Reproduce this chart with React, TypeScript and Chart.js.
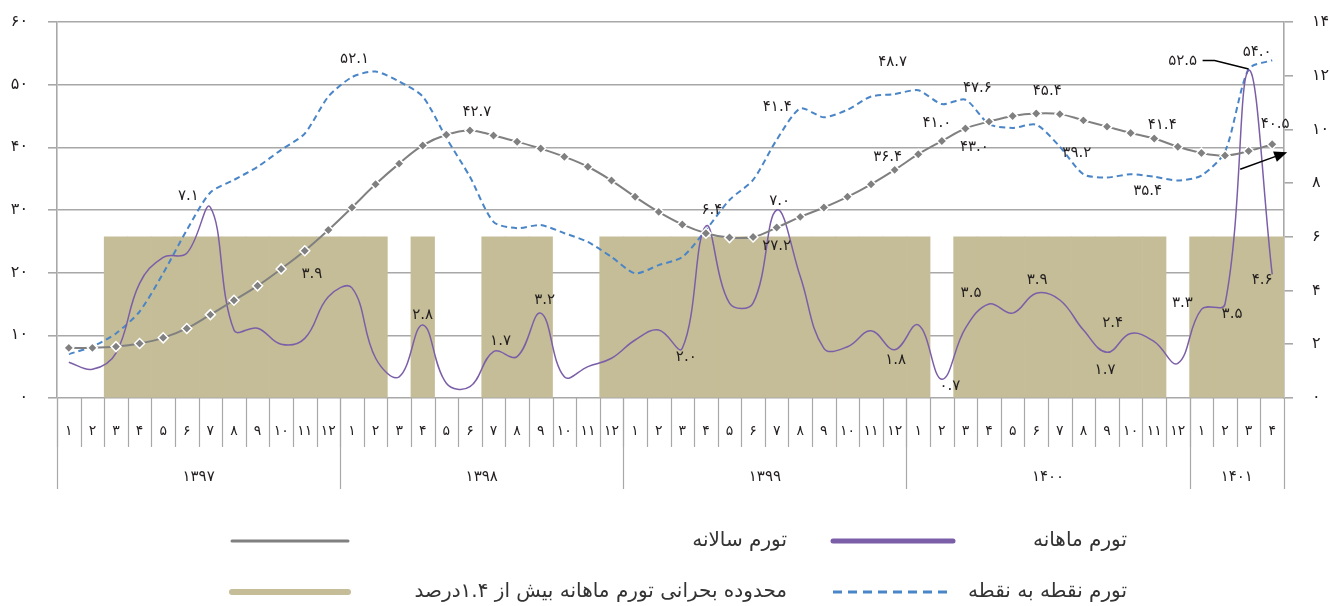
import { useEffect, useRef } from 'react';
import { Chart, registerables } from 'chart.js';

Chart.register(...registerables);

const FONT = '"DejaVu Sans", sans-serif';

// Category axis: Persian month numbers grouped by year
const monthLabels = [
  '۱', '۲', '۳', '۴', '۵', '۶', '۷', '۸', '۹', '۱۰', '۱۱', '۱۲',
  '۱', '۲', '۳', '۴', '۵', '۶', '۷', '۸', '۹', '۱۰', '۱۱', '۱۲',
  '۱', '۲', '۳', '۴', '۵', '۶', '۷', '۸', '۹', '۱۰', '۱۱', '۱۲',
  '۱', '۲', '۳', '۴', '۵', '۶', '۷', '۸', '۹', '۱۰', '۱۱', '۱۲',
  '۱', '۲', '۳', '۴',
];
const yearLabels = ['۱۳۹۷', '۱۳۹۸', '۱۳۹۹', '۱۴۰۰', '۱۴۰۱'];
const yearMonthCounts = [12, 12, 12, 12, 4];

const leftTickLabels = ['۰', '۱۰', '۲۰', '۳۰', '۴۰', '۵۰', '۶۰'];
const rightTickLabels = ['۰', '۲', '۴', '۶', '۸', '۱۰', '۱۲', '۱۴'];

// Monthly inflation (right axis)
const monthly = [
  1.33, 1.07, 1.67, 4.27, 5.24, 5.39, 7.1, 2.53, 2.6, 2.0, 2.22, 3.77,
  4.1, 1.49, 0.79, 2.72, 0.55, 0.42, 1.73, 1.54, 3.16, 0.79, 1.17, 1.48,
  2.16, 2.53, 1.85, 6.4, 3.53, 3.53, 7.0, 4.52, 1.85, 1.91, 2.5, 1.8,
  2.72, 0.7, 2.6, 3.5, 3.16, 3.9, 3.65, 2.53, 1.7, 2.4, 2.1, 1.29,
  3.3, 3.5, 12.2, 4.6,
];

// Annual inflation (left axis)
const annual = [
  8.0, 8.0, 8.2, 8.7, 9.6, 11.1, 13.3, 15.6, 17.9, 20.6, 23.5, 26.8,
  30.4, 34.1, 37.4, 40.3, 42.0, 42.7, 41.9, 40.9, 39.8, 38.5, 36.9, 34.7,
  32.1, 29.7, 27.7, 26.3, 25.6, 25.7, 27.2, 28.9, 30.4, 32.1, 34.1, 36.4,
  38.9, 41.0, 43.0, 44.1, 45.0, 45.4, 45.3, 44.3, 43.3, 42.3, 41.4, 40.1,
  39.1, 38.7, 39.4, 40.5,
];

// Point-to-point inflation (left axis)
const pointToPoint = [
  7.0, 8.2, 10.3, 13.8, 19.9, 26.8, 32.8, 34.8, 36.9, 39.6, 42.2, 48.1,
  51.2, 52.1, 50.5, 48.1, 41.5, 35.3, 28.1, 27.1, 27.6, 26.3, 24.9, 22.5,
  19.9, 21.2, 22.5, 26.8, 31.6, 34.8, 41.2, 46.2, 44.8, 46.0, 48.1, 48.5,
  49.1, 46.9, 47.6, 43.7, 43.1, 43.6, 40.1, 35.7, 35.2, 35.7, 35.3, 34.7,
  35.5, 39.3, 52.5, 53.9,
];

// Crisis band (monthly inflation above 1.4%), height on right axis
const crisis = [
  null, null, 6, 6, 6, 6, 6, 6, 6, 6, 6, 6,
  6, 6, null, 6, null, null, 6, 6, 6, null, null, 6,
  6, 6, 6, 6, 6, 6, 6, 6, 6, 6, 6, 6,
  6, null, 6, 6, 6, 6, 6, 6, 6, 6, 6, null,
  6, 6, 6, 6,
];

const COLORS = {
  monthly: '#7b5ea8',
  annual: '#808080',
  p2p: '#4a85c7',
  crisis: '#c5bd97',
  grid: '#a8a8a8',
  text: '#231f20',
};

// Value labels anchored to data points (series, index, text, offset)
type Ann = { s: 'monthly' | 'annual' | 'p2p'; i: number; t: string; dx: number; dy: number };
const annotations: Ann[] = [
  { s: 'p2p', i: 13, t: '۵۲.۱', dx: -21, dy: -12 },
  { s: 'p2p', i: 31, t: '۴۱.۴', dx: -23, dy: -1 },
  { s: 'p2p', i: 35, t: '۴۸.۷', dx: -2, dy: -32 },
  { s: 'p2p', i: 38, t: '۴۷.۶', dx: 12, dy: -12 },
  { s: 'p2p', i: 42, t: '۳۹.۲', dx: 17, dy: 6 },
  { s: 'p2p', i: 45, t: '۳۵.۴', dx: 17, dy: 17 },
  { s: 'p2p', i: 50, t: '۵۲.۵', dx: -66, dy: -8 },
  { s: 'p2p', i: 51, t: '۵۴.۰', dx: -15, dy: -8 },
  { s: 'annual', i: 17, t: '۴۲.۷', dx: 7, dy: -18 },
  { s: 'annual', i: 30, t: '۲۷.۲', dx: 0, dy: 19 },
  { s: 'annual', i: 35, t: '۳۶.۴', dx: -7, dy: -13 },
  { s: 'annual', i: 37, t: '۴۱.۰', dx: -5, dy: -18 },
  { s: 'annual', i: 38, t: '۴۳.۰', dx: 9, dy: 19 },
  { s: 'annual', i: 41, t: '۴۵.۴', dx: 11, dy: -22 },
  { s: 'annual', i: 46, t: '۴۱.۴', dx: 8, dy: -13 },
  { s: 'annual', i: 51, t: '۴۰.۵', dx: 3, dy: -20 },
  { s: 'monthly', i: 6, t: '۷.۱', dx: -22, dy: -11 },
  { s: 'monthly', i: 12, t: '۳.۹', dx: -40, dy: -14 },
  { s: 'monthly', i: 15, t: '۲.۸', dx: 0, dy: -10 },
  { s: 'monthly', i: 18, t: '۱.۷', dx: 7, dy: -10 },
  { s: 'monthly', i: 20, t: '۳.۲', dx: 4, dy: -13 },
  { s: 'monthly', i: 26, t: '۲.۰', dx: 4, dy: 9 },
  { s: 'monthly', i: 27, t: '۶.۴', dx: 6, dy: -16 },
  { s: 'monthly', i: 30, t: '۷.۰', dx: 3, dy: -9 },
  { s: 'monthly', i: 35, t: '۱.۸', dx: 1, dy: 10 },
  { s: 'monthly', i: 37, t: '۰.۷', dx: 8, dy: 7 },
  { s: 'monthly', i: 39, t: '۳.۵', dx: -18, dy: -11 },
  { s: 'monthly', i: 41, t: '۳.۹', dx: 1, dy: -13 },
  { s: 'monthly', i: 45, t: '۲.۴', dx: -18, dy: -10 },
  { s: 'monthly', i: 44, t: '۱.۷', dx: -2, dy: 18 },
  { s: 'monthly', i: 48, t: '۳.۳', dx: -19, dy: -6 },
  { s: 'monthly', i: 49, t: '۳.۵', dx: 7, dy: 10 },
  { s: 'monthly', i: 51, t: '۴.۶', dx: -10, dy: 6 },
];

const legendItems = [
  { label: 'تورم ماهانه', color: COLORS.monthly, width: 5, dash: [] as number[], col: 0, row: 0 },
  { label: 'تورم سالانه', color: COLORS.annual, width: 3, dash: [] as number[], col: 1, row: 0 },
  { label: 'تورم نقطه به نقطه', color: COLORS.p2p, width: 3, dash: [9, 6], col: 0, row: 1 },
  { label: 'محدوده بحرانی تورم ماهانه بیش از ۱.۴درصد', color: COLORS.crisis, width: 6, dash: [] as number[], col: 1, row: 1 },
];

const seriesData: Record<string, number[]> = { monthly, annual, p2p: pointToPoint };
const seriesAxis: Record<string, string> = { monthly: 'y1', annual: 'y', p2p: 'y' };

const overlayPlugin = {
  id: 'overlay',
  afterDatasetsDraw(chart: any) {
    const ctx = chart.ctx;
    const xs = chart.scales.x;
    ctx.save();
    ctx.font = `15px ${FONT}`;
    ctx.fillStyle = COLORS.text;
    ctx.textAlign = 'center';
    ctx.textBaseline = 'middle';
    for (const a of annotations) {
      const px = xs.getPixelForValue(a.i);
      const py = chart.scales[seriesAxis[a.s]].getPixelForValue(seriesData[a.s][a.i]);
      ctx.fillText(a.t, px + a.dx, py + a.dy);
    }
    // leader line to the 52.5 point
    {
      const px = xs.getPixelForValue(50);
      const py = chart.scales.y.getPixelForValue(pointToPoint[50]);
      ctx.strokeStyle = '#000';
      ctx.lineWidth = 1.3;
      ctx.beginPath();
      ctx.moveTo(px - 46, py - 8.5);
      ctx.lineTo(px - 34, py - 8.5);
      ctx.lineTo(px, py);
      ctx.stroke();
    }
    // arrow toward the right axis
    {
      const px = xs.getPixelForValue(51);
      const py = chart.scales.y.getPixelForValue(annual[51]);
      const x0 = px - 32, y0 = py + 25, x1 = px + 15, y1 = py + 8;
      const ang = Math.atan2(y1 - y0, x1 - x0);
      ctx.strokeStyle = '#000';
      ctx.fillStyle = '#000';
      ctx.lineWidth = 1.5;
      ctx.beginPath();
      ctx.moveTo(x0, y0);
      ctx.lineTo(x1 - 10 * Math.cos(ang), y1 - 10 * Math.sin(ang));
      ctx.stroke();
      ctx.beginPath();
      ctx.moveTo(x1, y1);
      ctx.lineTo(x1 - 13 * Math.cos(ang) + 5.5 * Math.sin(ang), y1 - 13 * Math.sin(ang) - 5.5 * Math.cos(ang));
      ctx.lineTo(x1 - 13 * Math.cos(ang) - 5.5 * Math.sin(ang), y1 - 13 * Math.sin(ang) + 5.5 * Math.cos(ang));
      ctx.closePath();
      ctx.fill();
    }
    ctx.restore();
  },
  afterDraw(chart: any) {
    const ctx = chart.ctx;
    const xs = chart.scales.x;
    const ca = chart.chartArea;
    const bw = xs.getPixelForValue(1) - xs.getPixelForValue(0);
    ctx.save();
    // month separators and labels
    ctx.strokeStyle = COLORS.grid;
    ctx.lineWidth = 1.2;
    ctx.font = `14px ${FONT}`;
    ctx.fillStyle = COLORS.text;
    ctx.textAlign = 'center';
    ctx.textBaseline = 'middle';
    for (let k = 0; k < monthLabels.length; k++) {
      const cx = xs.getPixelForValue(k);
      const bx = Math.round(cx - bw / 2) + 0.5;
      ctx.beginPath();
      ctx.moveTo(bx, ca.bottom);
      ctx.lineTo(bx, ca.bottom + 49);
      ctx.stroke();
      ctx.fillText(monthLabels[k], cx, ca.bottom + 33);
    }
    // year separators and labels
    ctx.font = `15px ${FONT}`;
    let start = 0;
    for (let y = 0; y <= yearLabels.length; y++) {
      const bx = Math.round(xs.getPixelForValue(start) - bw / 2) + 0.5;
      ctx.beginPath();
      ctx.moveTo(bx, ca.bottom);
      ctx.lineTo(bx, ca.bottom + 91);
      ctx.stroke();
      if (y < yearLabels.length) {
        const cnt = yearMonthCounts[y];
        const mid = (xs.getPixelForValue(start) + xs.getPixelForValue(start + cnt - 1)) / 2;
        ctx.fillText(yearLabels[y], mid, ca.bottom + 79);
        start += cnt;
      }
    }
    // legend
    const rowY = [541, 592];
    const colTextRight = [1127, 787];
    const colLine = [[833, 953], [232, 348]];
    ctx.font = `20px ${FONT}`;
    ctx.direction = 'rtl';
    ctx.textAlign = 'right';
    for (const it of legendItems) {
      const y = rowY[it.row];
      ctx.fillStyle = '#333';
      ctx.fillText(it.label, colTextRight[it.col], y);
      ctx.strokeStyle = it.color;
      ctx.lineWidth = it.width;
      ctx.setLineDash(it.dash);
      ctx.lineCap = it.dash.length ? 'butt' : 'round';
      ctx.beginPath();
      ctx.moveTo(colLine[it.col][0], y);
      ctx.lineTo(colLine[it.col][1], y);
      ctx.stroke();
      ctx.setLineDash([]);
    }
    ctx.restore();
  },
};

export default function App() {
  const ref = useRef<HTMLCanvasElement | null>(null);
  useEffect(() => {
    if (!ref.current) return;
    const chart = new Chart(ref.current, {
      type: 'bar',
      data: {
        labels: monthLabels,
        datasets: [
          {
            type: 'line',
            label: 'تورم سالانه',
            data: annual,
            yAxisID: 'y',
            borderColor: COLORS.annual,
            borderWidth: 2,
            pointStyle: 'rectRot',
            pointRadius: 5,
            pointBackgroundColor: COLORS.annual,
            pointBorderColor: '#ffffff',
            pointBorderWidth: 1.5,
            tension: 0.4,
            order: 1,
          } as any,
          {
            type: 'line',
            label: 'تورم ماهانه',
            data: monthly,
            yAxisID: 'y1',
            borderColor: COLORS.monthly,
            borderWidth: 1.5,
            pointRadius: 0,
            tension: 0.4,
            order: 2,
          } as any,
          {
            type: 'line',
            label: 'تورم نقطه به نقطه',
            data: pointToPoint,
            yAxisID: 'y',
            borderColor: COLORS.p2p,
            borderWidth: 2,
            borderDash: [6, 4],
            pointRadius: 0,
            tension: 0.25,
            order: 3,
          } as any,
          {
            type: 'bar',
            label: 'محدوده بحرانی',
            data: crisis,
            yAxisID: 'y1',
            backgroundColor: COLORS.crisis,
            barPercentage: 1,
            categoryPercentage: 1,
            order: 10,
          } as any,
        ],
      },
      options: {
        animation: false,
        responsive: true,
        maintainAspectRatio: false,
        layout: { padding: { top: 22, bottom: 208, left: 0, right: 0 } },
        plugins: { legend: { display: false }, tooltip: { enabled: false } },
        scales: {
          x: { display: false, offset: true },
          y: {
            position: 'left',
            min: 0,
            max: 60,
            ticks: {
              stepSize: 10,
              padding: 20,
              color: COLORS.text,
              font: { family: FONT, size: 16 },
              callback: (v: any) => leftTickLabels[Math.round(Number(v) / 10)],
            },
            grid: { color: COLORS.grid, lineWidth: 1.6, tickLength: 9 },
            border: { color: COLORS.grid, width: 1.6 },
            afterFit: (s: any) => { s.width = 57; s.paddingTop = 0; s.paddingBottom = 0; },
          },
          y1: {
            position: 'right',
            min: 0,
            max: 14,
            ticks: {
              stepSize: 2,
              padding: 19,
              color: COLORS.text,
              font: { family: FONT, size: 16 },
              callback: (v: any) => rightTickLabels[Math.round(Number(v) / 2)],
            },
            grid: { drawOnChartArea: false, color: COLORS.grid, lineWidth: 1.6, tickLength: 9 },
            border: { color: COLORS.grid, width: 1.6 },
            afterFit: (s: any) => { s.width = 46; s.paddingTop = 0; s.paddingBottom = 0; },
          },
        },
      } as any,
      plugins: [overlayPlugin],
    });
    return () => chart.destroy();
  }, []);
  return (
    <div style={{ position: 'fixed', left: 0, top: 0, width: 1330, height: 606, background: '#fff' }}>
      <canvas ref={ref} />
    </div>
  );
}
